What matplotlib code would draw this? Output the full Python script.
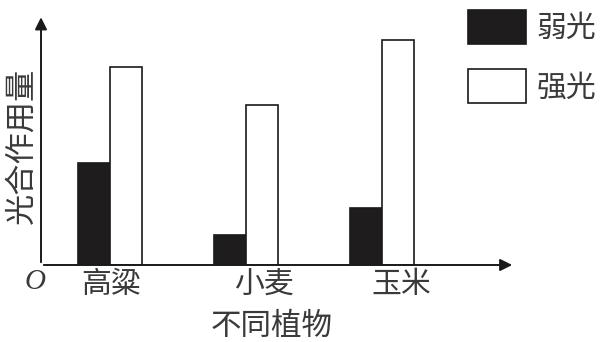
import numpy as np
import matplotlib
matplotlib.use("Agg")
import matplotlib.pyplot as plt

plt.rcParams["font.family"] = ["Noto Sans CJK SC", "DejaVu Sans"]

# data (arbitrary units)
plants = ["高粱", "小麦", "玉米"]
weak_light = [4.1, 1.2, 2.3]
strong_light = [7.9, 6.4, 9.0]
series_names = ["弱光", "强光"]

W, H = 610, 342
fig = plt.figure(figsize=(W / 100, H / 100), dpi=100)
ax = fig.add_axes([41 / W, 1 - 265 / H, (515 - 41) / W, (265 - 17) / H])

x = np.arange(len(plants))
bw = 0.235
ink = "#1a1a1a"
txt = "#3a3a3a"
b1 = ax.bar(x - bw / 2, weak_light, bw, color="#1e1c1c", edgecolor=ink, linewidth=1.2, label=series_names[0])
b2 = ax.bar(x + bw / 2, strong_light, bw, color="white", edgecolor=ink, linewidth=1.2, label=series_names[1])

ax.set_xlim((41 - 110) / 136, (515 - 110) / 136)
ax.set_ylim(0, 248 / 25)

for s in ax.spines.values():
    s.set_visible(False)
ax.set_yticks([])

# axes with arrow heads
ax.annotate("", xy=(0, 1.01), xytext=(0, 0), xycoords="axes fraction",
            arrowprops=dict(arrowstyle="-|>", color=ink, lw=1.4, mutation_scale=18))
ax.annotate("", xy=(1.0, 0), xytext=(0, 0), xycoords="axes fraction",
            arrowprops=dict(arrowstyle="-|>", color=ink, lw=1.4, mutation_scale=18))

# category labels sit a bit right of the group centres in the original
shift = [0.01, 0.13, 0.14]
ax.set_xticks(x + np.array(shift))
ax.set_xticklabels(plants, fontsize=21.5, color=txt, fontweight="light")
ax.tick_params(axis="x", length=0, pad=3)

fig.text(22 / W, 1 - 146 / H, "光合作用量", rotation=90, ha="center", va="center",
         fontsize=22.5, color=txt, fontweight="light")
fig.text(272 / W, 1 - 326 / H, "不同植物", ha="center", va="center",
         fontsize=22, color=txt, fontweight="light")
fig.text(35 / W, 1 - 282 / H, "O", ha="center", va="center", fontsize=21,
         family="Liberation Serif", style="italic", color=txt)

ax.legend(handles=[b1, b2], loc="upper left", bbox_to_anchor=(468 / W, 1 - 10 / H),
          bbox_transform=fig.transFigure, frameon=False, borderpad=0, borderaxespad=0,
          handlelength=1.93, handleheight=1.37, handletextpad=0.36, labelspacing=0.85,
          prop=dict(size=21.5, weight="light"), labelcolor=txt)

fig.savefig("out.png", dpi=100)
